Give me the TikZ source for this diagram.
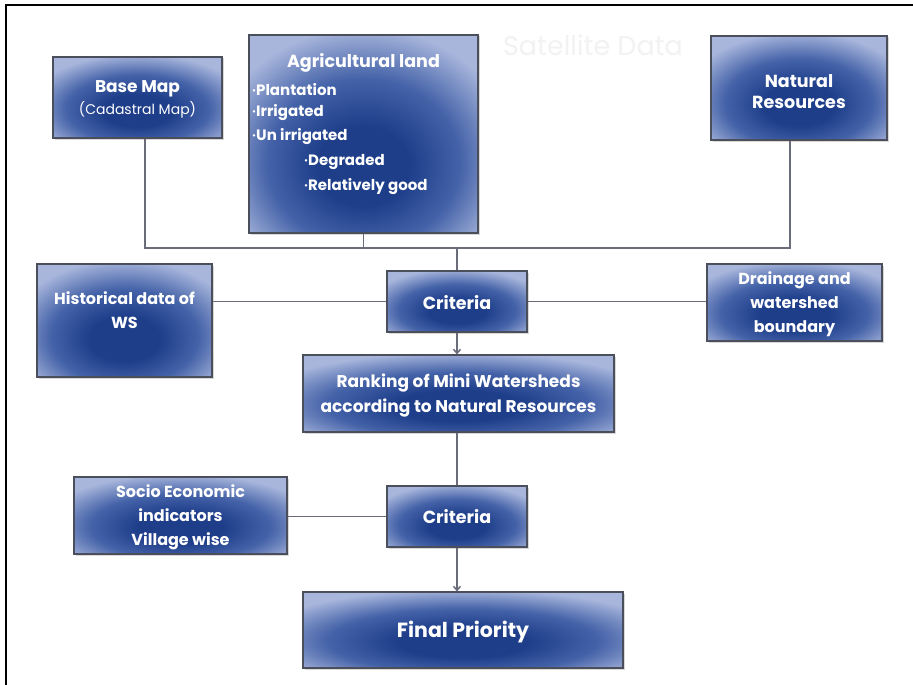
\documentclass[tikz,border=0pt]{standalone}
\usepackage{fontspec}
\setmainfont{Poppins}
\usetikzlibrary{shadows,arrows.meta,calc}
\definecolor{bdark}{HTML}{1E3E8A}
\definecolor{bmid}{HTML}{4462A8}
\definecolor{blight}{HTML}{A8B6DC}
\definecolor{edgec}{HTML}{4B4F5C}
\definecolor{connc}{HTML}{6A6C7A}
\pgfdeclareradialshading{boxshade}{\pgfpoint{0bp}{-9bp}}{color(0bp)=(bdark); color(10bp)=(bdark); color(21bp)=(bmid); color(33bp)=(blight); color(100bp)=(blight)}
\tikzset{
  box/.style={draw=edgec, line width=1.2pt, shading=boxshade, inner sep=0pt,
    drop shadow={opacity=0.3, shadow xshift=1.5pt, shadow yshift=-1.5pt}},
  txt/.style={text=white, font=\bfseries\fontsize{16}{24}\selectfont, align=center, inner sep=0pt},
  item/.style={text=white, font=\bfseries\fontsize{15}{16}\selectfont, anchor=west, inner sep=0pt},
  conn/.style={draw=connc, line width=1.5pt},
  arr/.style={conn, -{Straight Barb[length=4pt,width=7pt]}}
}
\newcommand{\bul}{{\fontsize{8}{8}\selectfont\raisebox{2pt}{•}}}
\begin{document}
\begin{tikzpicture}[x=1pt,y=-1pt]
\useasboundingbox (0,0) rectangle (913,685);
\fill[white] (0,0) rectangle (913,685);
\draw[line width=2pt] (6,685) -- (6,5) -- (913,5);

% ghost text
\node[text=black!5, font=\fontsize{27}{27}\selectfont] (sat) at (593,45) {Satellite Data};

% boxes
\node[box, minimum width=169, minimum height=81] (base) at (137.5,97.5) {};
\node[txt] (baset) at (137.5,99) {{\fontsize{17}{22}\selectfont Base Map}\\[-2pt]{\mdseries\fontsize{14}{22}\selectfont (Cadastral Map)}};

\node[box, minimum width=229, minimum height=198] (agri) at (363.5,134) {};
\node[txt, font=\bfseries\fontsize{17.5}{20}\selectfont] (agrit) at (363.5,63) {Agricultural land};
\node[item] (a1) at (252,90) {\bul Plantation};
\node[item] (a2) at (252,113) {\bul Irrigated};
\node[item] (a3) at (252,137) {\bul Un irrigated};
\node[item] (a4) at (304,162) {\bul Degraded};
\node[item] (a5) at (304,187) {\bul Relatively good};

\node[box, minimum width=176, minimum height=104] (natres) at (799,88) {};
\node[txt, font=\bfseries\fontsize{17.5}{21}\selectfont] (natrest) at (799,92) {Natural\\Resources};

\node[box, minimum width=175, minimum height=113] (hist) at (124.5,320.5) {};
\node[txt] (histt) at (124.5,310) {Historical data of\\WS};

\node[box, minimum width=140, minimum height=61] (crit1) at (457,301.5) {};
\node[txt, font=\bfseries\fontsize{17.5}{20}\selectfont] (crit1t) at (457,303) {Criteria};

\node[box, minimum width=175, minimum height=77] (drain) at (794.5,302.5) {};
\node[txt] (draint) at (794.5,304) {Drainage and\\watershed\\boundary};

\node[box, minimum width=311, minimum height=77] (rank) at (458.5,393.5) {};
\node[txt, font=\bfseries\fontsize{17}{25}\selectfont] (rankt) at (458.5,395.5) {Ranking of Mini Watersheds\\according to Natural Resources};

\node[box, minimum width=213, minimum height=77] (socio) at (180.5,515.5) {};
\node[txt] (sociot) at (180.5,517) {Socio Economic\\indicators\\Village wise};

\node[box, minimum width=140, minimum height=61] (crit2) at (457,516.5) {};
\node[txt, font=\bfseries\fontsize{17.5}{20}\selectfont] (crit2t) at (457,517) {Criteria};

\node[box, minimum width=320, minimum height=76] (final) at (463,630) {};
\node[txt, font=\bfseries\fontsize{20.5}{22}\selectfont] (finalt) at (463,632) {Final Priority};

% connectors
\coordinate (j1) at (145,248);
\coordinate (j3) at (790,248);
\draw[conn] (base.south -| j1) -- (j1) -- (j3) -- (natres.south -| j3);
\draw[conn] (agri.south) -- (agri.south |- j1);
\draw[conn] (crit1.north |- j1) -- (crit1.north);
\draw[conn] (crit1.west -| hist.east) -- (crit1.west);
\draw[conn] (crit1.east) -- (crit1.east -| drain.west);
\draw[arr] (crit1.south) -- (crit1.south |- rank.north);
\draw[conn] (rank.south -| crit2.north) -- (crit2.north);
\draw[conn] (crit2.west -| socio.east) -- (crit2.west);
\draw[arr] (crit2.south) -- (crit2.south |- final.north);
\end{tikzpicture}
\end{document}
